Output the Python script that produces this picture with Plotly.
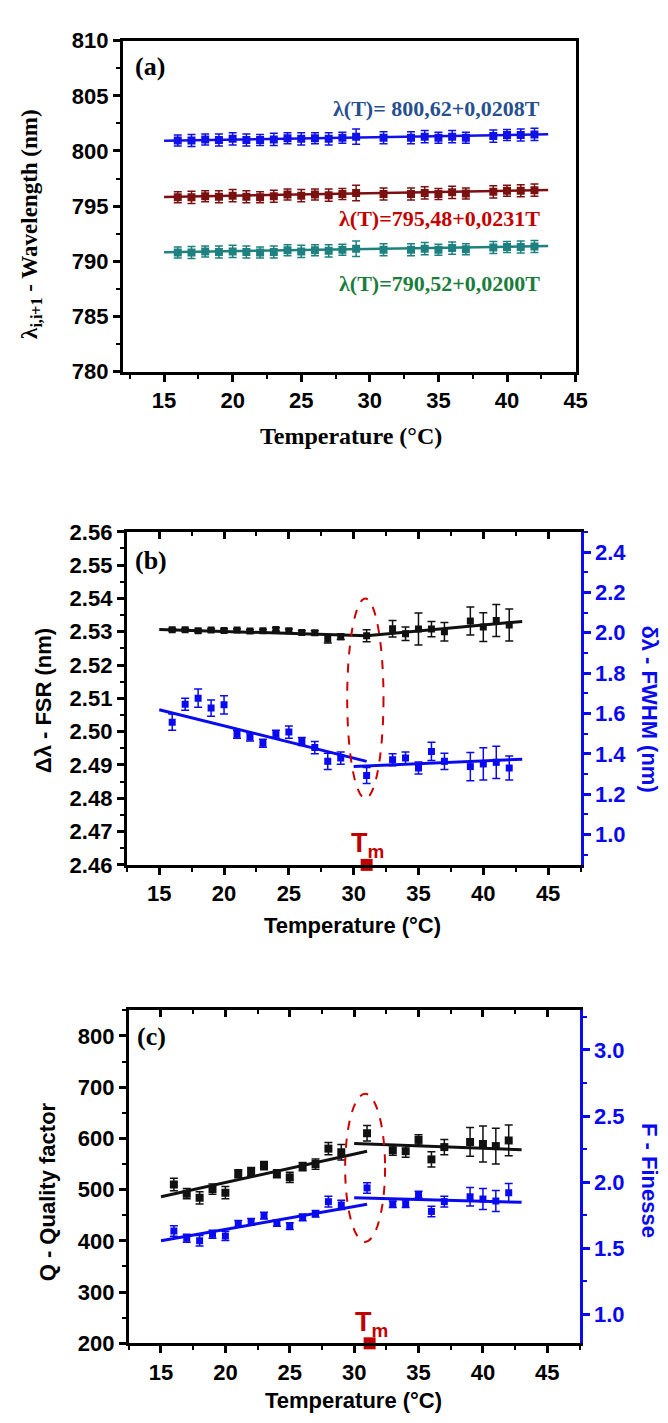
import plotly.graph_objects as go

# temperatures (degC) shared by all three panels
temp = [16, 17, 18, 19, 20, 21, 22, 23, 24, 25, 26, 27, 28, 29, 31, 33, 34, 35, 36, 37, 39, 40, 41, 42]

# panel (a): resonance wavelengths (nm)
lam_blue = [800.95, 800.95, 801.05, 801.0, 801.1, 801.0, 801.0, 801.05, 801.15, 801.1, 801.15, 801.1,
            801.2, 801.3, 801.2, 801.2, 801.3, 801.2, 801.3, 801.2, 801.35, 801.45, 801.45, 801.5]
lam_red = [795.8, 795.8, 795.9, 795.85, 795.95, 795.85, 795.8, 795.9, 796.05, 795.95, 796.05, 796.0,
           796.1, 796.2, 796.1, 796.1, 796.2, 796.1, 796.25, 796.15, 796.3, 796.4, 796.4, 796.45]
lam_teal = [790.8, 790.8, 790.9, 790.85, 790.9, 790.85, 790.8, 790.85, 791.0, 790.9, 791.0, 790.95,
            791.05, 791.15, 791.05, 791.05, 791.15, 791.05, 791.2, 791.1, 791.25, 791.3, 791.3, 791.35]
lam_err = [0.5, 0.55, 0.5, 0.55, 0.55, 0.55, 0.5, 0.55, 0.5, 0.55, 0.5, 0.55,
           0.5, 0.7, 0.55, 0.55, 0.55, 0.5, 0.55, 0.5, 0.55, 0.5, 0.55, 0.55]
fit_a_x = [15, 43]
fit_blue = [800.93, 801.51]
fit_red = [795.83, 796.47]
fit_teal = [790.82, 791.38]

# panel (b): FSR (nm) and FWHM (nm)
fsr = [2.5306, 2.5306, 2.5303, 2.5305, 2.5304, 2.5305, 2.5302, 2.5303, 2.5307, 2.5303, 2.5298, 2.5297,
       2.5278, 2.5285, 2.5288, 2.5309, 2.5294, 2.5308, 2.5308, 2.5300, 2.5332, 2.5314, 2.5334, 2.5320]
fsr_err = [0.0004, 0.0004, 0.0004, 0.0004, 0.0004, 0.0004, 0.0004, 0.0004, 0.0005, 0.0005, 0.0005, 0.0006,
           0.0012, 0.0008, 0.0018, 0.0025, 0.002, 0.0048, 0.0023, 0.0028, 0.0042, 0.0043, 0.0048, 0.0048]
fwhm = [1.557, 1.646, 1.676, 1.627, 1.643, 1.497, 1.484, 1.453, 1.497, 1.508, 1.461, 1.431,
        1.363, 1.379, 1.293, 1.371, 1.379, 1.330, 1.412, 1.363, 1.337, 1.350, 1.358, 1.330]
fwhm_err = [0.04, 0.03, 0.045, 0.04, 0.045, 0.02, 0.02, 0.02, 0.02, 0.03, 0.02, 0.03,
            0.04, 0.03, 0.04, 0.03, 0.03, 0.03, 0.045, 0.04, 0.07, 0.08, 0.08, 0.06]
fsr_fit1_x, fsr_fit1 = [15, 31], [2.5307, 2.5288]
fsr_fit2_x, fsr_fit2 = [31, 43], [2.5288, 2.5331]
fwhm_fit1_x, fwhm_fit1 = [15, 31], [1.619, 1.363]
fwhm_fit2_x, fwhm_fit2 = [30, 43], [1.337, 1.374]

# panel (c): quality factor and finesse
qf = [510, 492, 484, 501, 494, 531, 535, 547, 531, 524, 545, 550,
      580, 573, 610, 577, 575, 597, 559, 583, 593, 589, 585, 596]
qf_err = [12, 10, 12, 10, 12, 8, 8, 8, 8, 10, 8, 10, 12, 15, 15, 10, 12, 10, 15, 15, 28, 35, 35, 30]
fin = [1.630, 1.575, 1.556, 1.605, 1.593, 1.684, 1.699, 1.746, 1.691, 1.667, 1.733, 1.760,
       1.852, 1.827, 1.956, 1.832, 1.837, 1.906, 1.778, 1.852, 1.889, 1.872, 1.857, 1.919]
fin_err = [0.04, 0.03, 0.04, 0.03, 0.035, 0.025, 0.025, 0.025, 0.025, 0.025, 0.025, 0.025,
           0.04, 0.035, 0.04, 0.025, 0.03, 0.025, 0.04, 0.04, 0.07, 0.08, 0.08, 0.07]
qf_fit1_x, qf_fit1 = [15, 31], [486, 575]
qf_fit2_x, qf_fit2 = [30, 43], [590, 578]
fin_fit1_x, fin_fit1 = [15, 31], [1.556, 1.832]
fin_fit2_x, fin_fit2 = [30, 43], [1.881, 1.847]

W, H = 668, 1423
SERIF = "Liberation Serif"
SANS = "Liberation Sans"
BLUE = "#0a0af0"
BLACK = "#111111"
TMRED = "#c00000"


def px(x):
    return x / W


def py(y):
    return 1 - y / H


def pts(x, y, err, color, xa, ya, size=8):
    return go.Scatter(x=x, y=y, xaxis=xa, yaxis=ya, mode="markers", showlegend=False,
                      marker=dict(symbol="square", size=size, color=color),
                      error_y=dict(type="data", array=err, color=color, thickness=1.5, width=4))


def fit(x, y, color, xa, ya, w=3):
    return go.Scatter(x=x, y=y, xaxis=xa, yaxis=ya, mode="lines", showlegend=False,
                      line=dict(color=color, width=w))


fig = go.Figure()

# (a)
fig.add_trace(fit(fit_a_x, fit_blue, "#1010e8", "x", "y", 2.5))
fig.add_trace(fit(fit_a_x, fit_red, "#7a1010", "x", "y", 2.5))
fig.add_trace(fit(fit_a_x, fit_teal, "#1f8080", "x", "y", 2.5))
fig.add_trace(pts(temp, lam_blue, lam_err, "#1010e8", "x", "y"))
fig.add_trace(pts(temp, lam_red, lam_err, "#7a1010", "x", "y"))
fig.add_trace(pts(temp, lam_teal, lam_err, "#1f8080", "x", "y"))

# (b)
fig.add_trace(fit(fsr_fit1_x, fsr_fit1, BLACK, "x2", "y2"))
fig.add_trace(fit(fsr_fit2_x, fsr_fit2, BLACK, "x2", "y2"))
fig.add_trace(pts(temp, fsr, fsr_err, BLACK, "x2", "y2", 7))
fig.add_trace(fit(fwhm_fit1_x, fwhm_fit1, BLUE, "x2", "y3"))
fig.add_trace(fit(fwhm_fit2_x, fwhm_fit2, BLUE, "x2", "y3"))
fig.add_trace(pts(temp, fwhm, fwhm_err, BLUE, "x2", "y3", 7))
fig.add_trace(go.Scatter(x=[None], y=[None], xaxis="x3", yaxis="y2", showlegend=False))
fig.add_trace(go.Scatter(x=[31], y=[2.46], xaxis="x2", yaxis="y2", mode="markers", showlegend=False,
                         cliponaxis=False, marker=dict(symbol="square", size=12, color=TMRED)))

# (c)
fig.add_trace(fit(qf_fit1_x, qf_fit1, BLACK, "x4", "y4"))
fig.add_trace(fit(qf_fit2_x, qf_fit2, BLACK, "x4", "y4"))
fig.add_trace(pts(temp, qf, qf_err, BLACK, "x4", "y4"))
fig.add_trace(fit(fin_fit1_x, fin_fit1, BLUE, "x4", "y5"))
fig.add_trace(fit(fin_fit2_x, fin_fit2, BLUE, "x4", "y5"))
fig.add_trace(pts(temp, fin, fin_err, BLUE, "x4", "y5", 7))
fig.add_trace(go.Scatter(x=[None], y=[None], xaxis="x5", yaxis="y4", showlegend=False))
fig.add_trace(go.Scatter(x=[31.2], y=[200], xaxis="x4", yaxis="y4", mode="markers", showlegend=False,
                         cliponaxis=False, marker=dict(symbol="square", size=12, color=TMRED)))

tickfont = dict(family=SANS, size=22, color="black", weight="bold")
bluefont = dict(family=SANS, size=22, color=BLUE, weight="bold")


def xax(dom, anchor, rng, mirror):
    return dict(domain=dom, anchor=anchor, range=rng, tick0=15, dtick=5, showgrid=False, zeroline=False,
                showline=True, linewidth=3, linecolor="black", mirror=mirror, ticks="outside",
                ticklen=7, tickwidth=2.5, tickcolor="black", tickfont=tickfont,
                minor=dict(dtick=2.5, ticks="outside", ticklen=4, tickwidth=2, tickcolor="black"))


def yax(dom, anchor, rng, d, fmt, side="left", color="black", font=tickfont, mirror=False, over=None):
    ax = dict(domain=dom, anchor=anchor, range=rng, tick0=0, dtick=d, tickformat=fmt, side=side,
              showgrid=False, zeroline=False, showline=True, linewidth=3, linecolor=color,
              mirror=mirror, ticks="outside", ticklen=7, tickwidth=2.5, tickcolor=color, tickfont=font,
              minor=dict(dtick=d / 2, ticks="outside", ticklen=4, tickwidth=2, tickcolor=color))
    if over:
        ax["overlaying"] = over
    return ax


def topax(dom, anchor, rng, over):
    return dict(domain=dom, anchor=anchor, range=rng, overlaying=over, side="top", tick0=15, dtick=5,
                showticklabels=False, showgrid=False, zeroline=False, showline=False, ticks="inside",
                ticklen=7, tickwidth=2.5, tickcolor="black",
                minor=dict(dtick=2.5, ticks="inside", ticklen=4, tickwidth=2, tickcolor="black"))


dom_ax = [px(117), px(578)]
dom_ay = [py(358), py(21)]
dom_bx = [px(121), px(583)]
dom_by = [py(860), py(521)]
dom_cx = [px(123), px(582)]
dom_cy = [py(1347), py(1008)]

fig.update_layout(
    width=W, height=H, paper_bgcolor="white", plot_bgcolor="white",
    margin=dict(l=0, r=0, t=0, b=0), showlegend=False,
    xaxis=xax(dom_ax, "y", [12, 45], True),
    yaxis=yax(dom_ay, "x", [780, 810], 5, "d", mirror=True),
    xaxis2=xax(dom_bx, "y2", [12.5, 47.5], True),
    yaxis2=yax(dom_by, "x2", [2.46, 2.56], 0.01, ".2f"),
    yaxis3=yax(dom_by, "x2", [0.85, 2.5], 0.2, ".1f", side="right", color=BLUE, font=bluefont, over="y2"),
    xaxis3=topax(dom_bx, "y2", [12.5, 47.5], "x2"),
    xaxis4=xax(dom_cx, "y4", [12.5, 47.5], True),
    yaxis4=yax(dom_cy, "x4", [200, 850], 100, "d"),
    yaxis5=yax(dom_cy, "x4", [0.78, 3.3], 0.5, ".1f", side="right", color=BLUE, font=bluefont, over="y4"),
    xaxis5=topax(dom_cx, "y4", [12.5, 47.5], "x4"),
)

ell = dict(type="circle", line=dict(color="#cc0000", width=2, dash="dash"), layer="above")
fig.add_shape(ell, xref="x2", yref="y2", x0=29.5, x1=32.3, y0=2.48, y1=2.54)
fig.add_shape(ell, xref="x4", yref="y4", x0=29.3, x1=32.4, y0=398, y1=687)


def note(text, x, y, size, color="black", family=SANS, angle=0, xanchor="center"):
    fig.add_annotation(text=text, x=x, y=y, xref="paper", yref="paper", showarrow=False, textangle=angle,
                       xanchor=xanchor, yanchor="middle",
                       font=dict(family=family, size=size, color=color, weight="bold"))


# panel (a) texts
note("(a)", px(127), py(47), 26, family=SERIF, xanchor="left")
note("λ(T)= 800,62+0,0208T", px(544), py(90), 22, "#27508f", SERIF, xanchor="right")
note("λ(T)=795,48+0,0231T", px(544), py(202), 22, "#c40000", SERIF, xanchor="right")
note("λ(T)=790,52+0,0200T", px(544), py(268), 22, "#1a7d3c", SERIF, xanchor="right")
note("λ<sub>i,i+1</sub> - Wavelength (nm)", px(24), py(208), 23, family=SERIF, angle=-90)
note("Temperature (°C)", px(349), py(423), 24, family=SERIF)

# panel (b) texts
note("(b)", px(127), py(550), 26, family=SERIF, xanchor="left")
note("Δλ - FSR (nm)", px(36), py(693), 22, angle=-90)
note("δλ - FWHM (nm)", px(653), py(701), 22, BLUE, angle=90)
note("Temperature (°C)", px(351), py(922), 22)
note("T<sub>m</sub>", px(366), py(840), 27, TMRED)

# panel (c) texts
note("(c)", px(129), py(1035), 26, family=SERIF, xanchor="left")
note("Q - Quality factor", px(40), py(1193), 22, angle=-90)
note("F - Finesse", px(653), py(1181), 22, BLUE, angle=90)
note("Temperature (°C)", px(352), py(1405), 22)
note("T<sub>m</sub>", px(370), py(1327), 27, TMRED)

fig.write_html("out.html")
